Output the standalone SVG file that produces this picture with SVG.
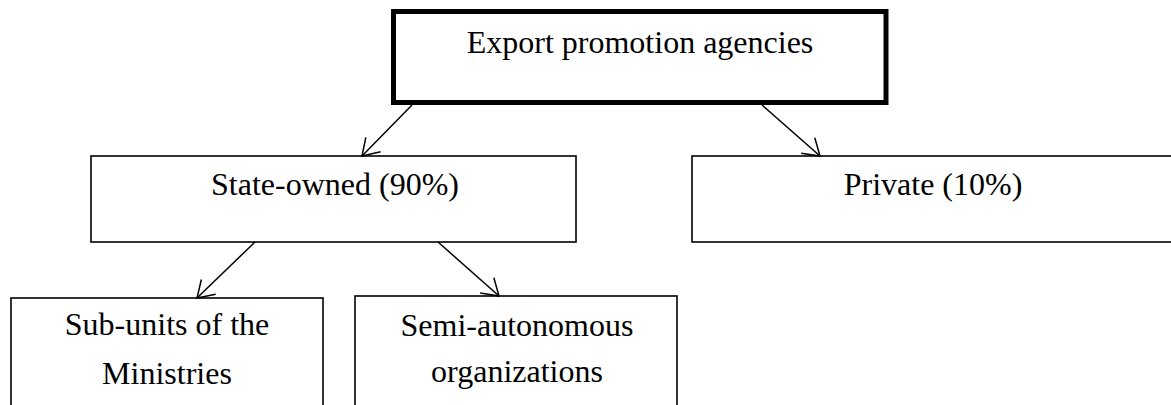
<svg xmlns="http://www.w3.org/2000/svg" width="1171" height="405" viewBox="0 0 1171 405">
  <style>
    .box { fill: #ffffff; stroke: #000000; stroke-width: 1.6; }
    .main { fill: #ffffff; stroke: #000000; stroke-width: 5; }
    .lbl { font-family: "Liberation Serif", "Times New Roman", serif; font-size: 32px; fill: #000000; text-anchor: middle; }
    .conn { stroke: #000000; stroke-width: 1.5; fill: none; marker-end: url(#arr); }
  </style>
  <defs>
    <marker id="arr" viewBox="0 0 20 24" refX="18" refY="12" markerWidth="20" markerHeight="24" markerUnits="userSpaceOnUse" orient="auto">
      <path d="M2,1.7 L18,12 L2,22.3" fill="none" stroke="#000000" stroke-width="1.5"/>
    </marker>
  </defs>
  <rect width="1171" height="405" fill="#ffffff"/>
  <g id="node-export">
    <rect class="main" x="393.5" y="11.5" width="492.5" height="91"/>
    <text class="lbl" x="640" y="53">Export promotion agencies</text>
  </g>
  <g id="node-state">
    <rect class="box" x="91" y="156" width="485" height="86"/>
    <text class="lbl" x="335" y="195">State-owned (90%)</text>
  </g>
  <g id="node-private">
    <rect class="box" x="692" y="156" width="482" height="86"/>
    <text class="lbl" x="933" y="195">Private (10%)</text>
  </g>
  <g id="node-subunits">
    <rect class="box" x="11" y="298" width="312" height="120"/>
    <text class="lbl" x="167" y="335">Sub-units of the</text>
    <text class="lbl" x="167" y="384">Ministries</text>
  </g>
  <g id="node-semi">
    <rect class="box" x="355" y="296" width="322" height="120"/>
    <text class="lbl" x="517" y="336">Semi-autonomous</text>
    <text class="lbl" x="517" y="382">organizations</text>
  </g>
  <g id="connectors">
    <line class="conn" x1="412" y1="105" x2="362" y2="156"/>
    <line class="conn" x1="762" y1="105" x2="820" y2="156"/>
    <line class="conn" x1="255" y1="242" x2="197" y2="298"/>
    <line class="conn" x1="438" y1="242" x2="499" y2="296"/>
  </g>
</svg>
